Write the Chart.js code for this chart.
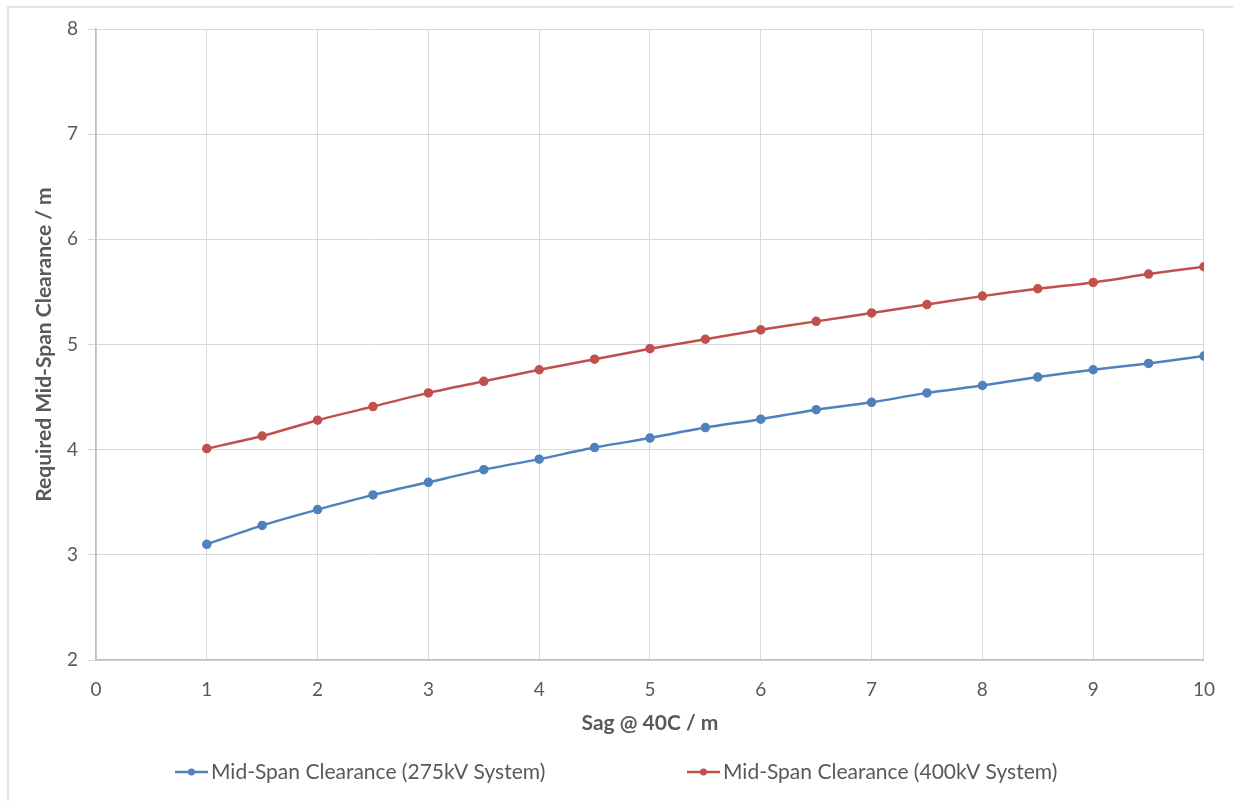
<!DOCTYPE html>
<html>
<head>
<meta charset="utf-8">
<title>Mid-Span Clearance vs Sag</title>
<script src="https://cdn.jsdelivr.net/npm/chart.js@4.4.1/dist/chart.umd.min.js"></script>
<style>
  html, body { margin: 0; padding: 0; background: #fff; }
  #wrap { position: relative; width: 1233px; height: 801px; }
  #frame { position: absolute; left: 7px; top: 6px; right: 0; bottom: 0;
           border-top: 2px solid #e3e3e3; border-left: 2px solid #e3e3e3; }
  canvas { position: absolute; left: 0; top: 0; }
</style>
</head>
<body>
<div id="wrap">
  <div id="frame"></div>
  <canvas id="chartCanvas" width="1233" height="801"></canvas>
</div>
<script>
// sag values (x) and clearances
const sagValues = [1, 1.5, 2, 2.5, 3, 3.5, 4, 4.5, 5, 5.5, 6, 6.5, 7, 7.5, 8, 8.5, 9, 9.5, 10];
const clearance275 = [3.10, 3.28, 3.43, 3.57, 3.69, 3.81, 3.91, 4.02, 4.11, 4.21, 4.29, 4.38, 4.45, 4.54, 4.61, 4.69, 4.76, 4.82, 4.89];
const clearance400 = [4.01, 4.13, 4.28, 4.41, 4.54, 4.65, 4.76, 4.86, 4.96, 5.05, 5.14, 5.22, 5.30, 5.38, 5.46, 5.53, 5.59, 5.67, 5.74];
const seriesNames = ['Mid-Span Clearance (275kV System)', 'Mid-Span Clearance (400kV System)'];
const xTitle = 'Sag @ 40C / m';
const yTitle = 'Required Mid-Span Clearance / m';

const fontFamily = 'Lato, "Open Sans", sans-serif';
const textColor = '#595959';

function toPoints(ys) {
  return sagValues.map((x, i) => ({ x: x, y: ys[i] }));
}

// Legend drawn under the chart, spaced like the original
const bottomLegend = {
  id: 'bottomLegend',
  afterDraw(chart) {
    const ctx = chart.ctx;
    const y = 772;
    const starts = [175, 687];
    ctx.save();
    ctx.font = '21px ' + fontFamily;
    ctx.textBaseline = 'middle';
    chart.data.datasets.forEach((ds, i) => {
      const x = starts[i];
      ctx.strokeStyle = ds.borderColor;
      ctx.lineWidth = 2.5;
      ctx.beginPath();
      ctx.moveTo(x, y);
      ctx.lineTo(x + 33, y);
      ctx.stroke();
      ctx.fillStyle = ds.borderColor;
      ctx.beginPath();
      ctx.arc(x + 16.5, y, 3.5, 0, Math.PI * 2);
      ctx.fill();
      ctx.fillStyle = textColor;
      ctx.fillText(ds.label, x + 36, y);
    });
    ctx.restore();
  }
};

const ctx = document.getElementById('chartCanvas').getContext('2d');
window.chart1 = new Chart(ctx, {
  type: 'line',
  data: {
    datasets: [
      {
        label: seriesNames[0],
        data: toPoints(clearance275),
        borderColor: '#4F81BD',
        backgroundColor: '#4F81BD',
        borderWidth: 2.5,
        pointRadius: 3.5,
        tension: 0.25
      },
      {
        label: seriesNames[1],
        data: toPoints(clearance400),
        borderColor: '#C0504D',
        backgroundColor: '#C0504D',
        borderWidth: 2.5,
        pointRadius: 3.5,
        tension: 0.25
      }
    ]
  },
  options: {
    responsive: false,
    animation: false,
    layout: { padding: { left: 28, right: 29, top: 29, bottom: 61 } },
    plugins: {
      legend: { display: false },
      tooltip: { enabled: false }
    },
    scales: {
      x: {
        type: 'linear',
        min: 0,
        max: 10,
        ticks: { stepSize: 1, color: textColor, font: { family: fontFamily, size: 19 }, padding: 18 },
        grid: { color: '#d9d9d9', tickLength: 0 },
        border: { color: '#bfbfbf', width: 1.5 },
        title: { display: true, text: xTitle, color: textColor, font: { family: fontFamily, size: 21, weight: 'bold' } },
        afterFit(scale) { scale.height = 80; }
      },
      y: {
        min: 2,
        max: 8,
        ticks: { stepSize: 1, color: textColor, font: { family: fontFamily, size: 19 }, padding: 10 },
        grid: { color: '#d9d9d9', tickLength: 8 },
        border: { color: '#bfbfbf', width: 1.5 },
        title: { display: true, text: yTitle, color: textColor, font: { family: fontFamily, size: 21, weight: 'bold' } },
        afterFit(scale) { scale.width = 68; }
      }
    }
  },
  plugins: [bottomLegend]
});
</script>
</body>
</html>
